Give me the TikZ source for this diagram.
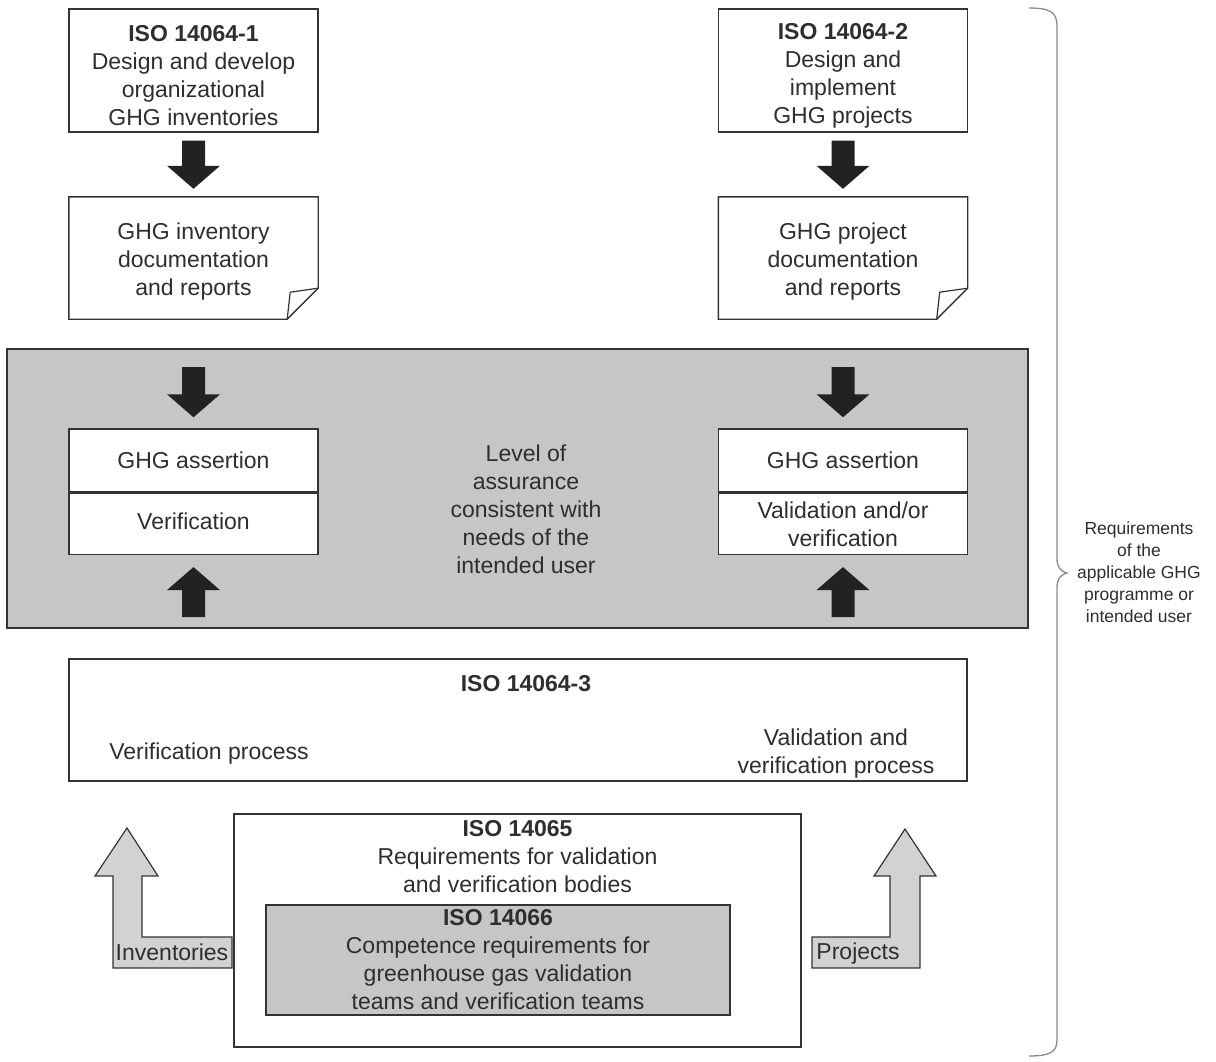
\documentclass[tikz,border=0pt]{standalone}
\usepackage{fontspec}
\setmainfont{Liberation Sans}
\usetikzlibrary{calc}
\definecolor{txt}{HTML}{2E2E2E}
\definecolor{edge}{HTML}{333333}
\definecolor{bandgray}{HTML}{C6C6C6}
\definecolor{lgray}{HTML}{D2D2D2}
\definecolor{bracegray}{HTML}{8A8A8A}
\definecolor{blk}{HTML}{222222}
\tikzset{
  base/.style={text=txt, font=\fontsize{23}{28}\selectfont, align=center, inner sep=0pt},
  box/.style={draw=edge, line width=1.4pt, fill=white, minimum width=249pt, minimum height=123pt, inner sep=0pt},
  doc/.style={minimum width=249pt, minimum height=122pt, inner sep=0pt},
  half/.style={base, draw=edge, line width=1.4pt, fill=white, minimum width=249pt},
  lbl/.style={base},
  small/.style={text=txt, font=\fontsize{17.5}{22}\selectfont, align=center, inner sep=0pt},
  blockfill/.style={fill=blk},
  larrow/.style={fill=lgray, draw=edge, line width=1.2pt, line join=miter},
}
\newcommand\arrdown[2]{%
  \fill[blockfill] let \p1=(#1), \p2=(#2) in
   (\x1-11.5pt,\y1) -- (\x1-11.5pt,\y2+23pt) -- (\x1-26.5pt,\y2+23pt) -- (\x1,\y2)
   -- (\x1+26.5pt,\y2+23pt) -- (\x1+11.5pt,\y2+23pt) -- (\x1+11.5pt,\y1) -- cycle;}
\newcommand\arrup[2]{%
  \fill[blockfill] let \p1=(#1), \p2=(#2) in
   (\x1-11.5pt,\y1) -- (\x1-11.5pt,\y2-23pt) -- (\x1-26.5pt,\y2-23pt) -- (\x1,\y2)
   -- (\x1+26.5pt,\y2-23pt) -- (\x1+11.5pt,\y2-23pt) -- (\x1+11.5pt,\y1) -- cycle;}
\begin{document}
\begin{tikzpicture}[x=1pt,y=-1pt]
\useasboundingbox (0,0) rectangle (1216,1062);

% top boxes
\node[box] (iso1) at (193.5,70.5) {};
\node[lbl] (iso1t) at ($(iso1)+(0,5)$) {\textbf{ISO 14064-1}\\Design and develop\\organizational\\GHG inventories};
\node[box] (iso2) at (843,70.5) {};
\node[lbl] (iso2t) at ($(iso2)+(0,5)$) {\textbf{ISO 14064-2}\\Design and\\implement\\GHG projects};

% documents
\node[doc] (doc1) at (193.5,258) {};
\node[lbl] (doc1t) at ($(doc1)+(0,4)$) {GHG inventory\\documentation\\and reports};
\node[doc] (doc2) at (843,258) {};
\node[lbl] (doc2t) at ($(doc2)+(0,4)$) {GHG project\\documentation\\and reports};
\foreach \d in {doc1,doc2}{
  \draw[edge, line width=1.4pt, line join=miter]
    (\d.north west) -- (\d.north east) -- ([yshift=31pt]\d.south east)
    -- ([xshift=-31pt]\d.south east) -- (\d.south west) -- cycle;
  \draw[edge, line width=1.2pt]
    ([yshift=31pt]\d.south east) -- ([xshift=-28pt,yshift=27pt]\d.south east)
    -- ([xshift=-31pt]\d.south east);
}

\arrdown{$(iso1.south)+(0,8)$}{$(doc1.north)+(0,-8)$}
\arrdown{$(iso2.south)+(0,8)$}{$(doc2.north)+(0,-8)$}

% gray band
\node[draw=edge, line width=1.2pt, fill=bandgray, minimum width=1021pt, minimum height=279pt, inner sep=0pt] (band) at (517.5,488.5) {};

\node[half, minimum height=63pt] (as1) at (193.5,460.5) {GHG assertion};
\node[half, minimum height=61pt, anchor=north] (ver1) at (as1.south) {};
\node[lbl] (ver1t) at ($(ver1)+(0,-3)$) {Verification};
\node[half, minimum height=63pt] (as2) at (843,460.5) {GHG assertion};
\node[half, minimum height=61pt, anchor=north] (ver2) at (as2.south) {Validation and/or\\verification};

\coordinate (t1) at (193.5,367);
\coordinate (t2) at (843,367);
\coordinate (b1) at (193.5,617);
\coordinate (b2) at (843,617);
\arrdown{t1}{$(as1.north)+(0,-11)$}
\arrdown{t2}{$(as2.north)+(0,-11)$}
\arrup{b1}{$(ver1.south)+(0,12)$}
\arrup{b2}{$(ver2.south)+(0,12)$}

\node[lbl] (level) at (526,509) {Level of\\assurance\\consistent with\\needs of the\\intended user};

% ISO 14064-3
\node[draw=edge, line width=1.4pt, fill=white, minimum width=898pt, minimum height=122pt, inner sep=0pt] (iso3) at (518,720) {};
\node[lbl] (iso3t) at (526,684) {\textbf{ISO 14064-3}};
\node[lbl] (vproc) at (209,754) {Verification process};
\node[lbl] (vvproc) at (836,753.5) {Validation and\\verification process};

% ISO 14065 / 14066
\node[draw=edge, line width=1.4pt, fill=white, minimum width=567pt, minimum height=233pt, inner sep=0pt] (iso5) at (517.5,930.5) {};
\node[lbl] (iso5t) at (517.5,857) {\textbf{ISO 14065}\\Requirements for validation\\and verification bodies};
\node[draw=edge, line width=1.4pt, fill=bandgray, minimum width=464pt, minimum height=110pt, inner sep=0pt] (iso6) at (498,960) {};
\node[lbl] (iso6t) at (498,959.5) {\textbf{ISO 14066}\\Competence requirements for\\greenhouse gas validation\\teams and verification teams};

% L arrows
\draw[larrow] (113,968) -- (113,876) -- (95,876) -- (127,828) -- (158,876) -- (142,876)
  -- (142,937) -- (232,937) -- (232,968) -- cycle;
\node[lbl] (inv) at (172,952) {Inventories};
\draw[larrow] (812,937) -- (890,937) -- (890,876) -- (874,876) -- (905,829) -- (936,876)
  -- (920,876) -- (920,968) -- (812,968) -- cycle;
\node[lbl] (proj) at (858,954) {Projects};

% brace
\coordinate (btip) at (1067,573);
\draw[bracegray, line width=1.3pt]
  (1029,8) .. controls (1050,8) and (1057,12) .. (1057,26) -- (1057,558)
  .. controls (1057,567) and (1060,571) .. (btip)
  .. controls (1060,575) and (1057,579) .. (1057,588) -- (1057,1040)
  .. controls (1057,1052) and (1050,1056) .. (1029,1056);
\node[small, anchor=west] (req) at ([xshift=10pt,yshift=1pt]btip) {Requirements\\of the\\applicable GHG\\programme or\\intended user};
\end{tikzpicture}
\end{document}
